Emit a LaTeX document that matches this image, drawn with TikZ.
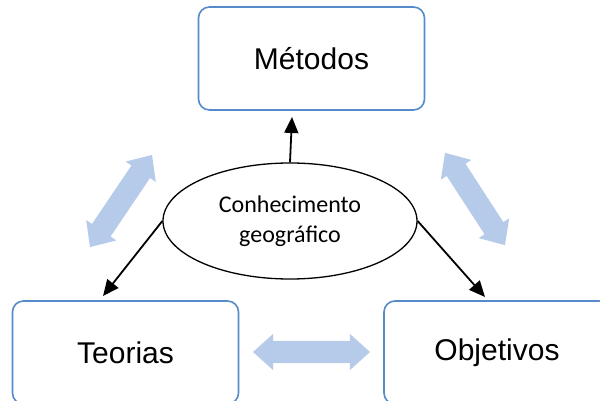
\documentclass[tikz,border=0pt]{standalone}
\usepackage{fontspec}
\setmainfont{Liberation Sans}
\newfontfamily\calibrifont{Carlito}
\usetikzlibrary{arrows.meta,shapes.geometric,shapes.arrows}
\definecolor{boxblue}{RGB}{86,139,202}
\definecolor{lightblue}{RGB}{182,203,233}

\begin{document}
\begin{tikzpicture}[
      x = 1pt, y = -1pt,
      box/.style = {
        draw = boxblue, line width = 1.6pt, rounded corners = 11pt,
        minimum width = 226pt, minimum height = 103pt,
        font = \fontsize{30}{36}\selectfont},
      link/.style = {
        double arrow, fill = lightblue, inner sep = 0pt, inner ysep = 11pt,
        minimum width = 36pt, double arrow head extend = 7pt,
        double arrow tip angle = 84},
      conn/.style = {
        -{Triangle[length = 16pt, width = 14pt]}, line width = 1.8pt, black}
      ]
    \useasboundingbox (0,0) rectangle (600,401);
    \node[box] (M) at (311.5,58.5) {Métodos}; % 0
    \node[box] (T) at (125.5,352.5) {Teorias}; % 1
    \node[box] (O) at (497,352.5) {Objetivos}; % 2
    \node[ellipse, draw, line width = 1.3pt, inner sep = 0pt,
      minimum width = 254pt, minimum height = 116pt, align = center,
      font = \calibrifont\fontsize{24}{30}\selectfont]
      (C) at (290,221) {Conhecimento\\geográfico}; % 3
    \coordinate (tm) at (292,117);
    \coordinate (tt) at (103,296);
    \coordinate (to) at (485,297);
    \draw[conn] (C.north)--(tm);
    \draw[conn] (C.west)--(tt);
    \draw[conn] (C.east)--(to);
    \node[link, minimum height = 111pt, rotate = 56] (TM) at (121,201) {};
    \node[link, minimum height = 110pt, rotate = -57] (MO) at (475,199) {};
    \node[link, minimum height = 117pt] (TO) at (311.5,352) {};
  \end{tikzpicture}
\end{document}
